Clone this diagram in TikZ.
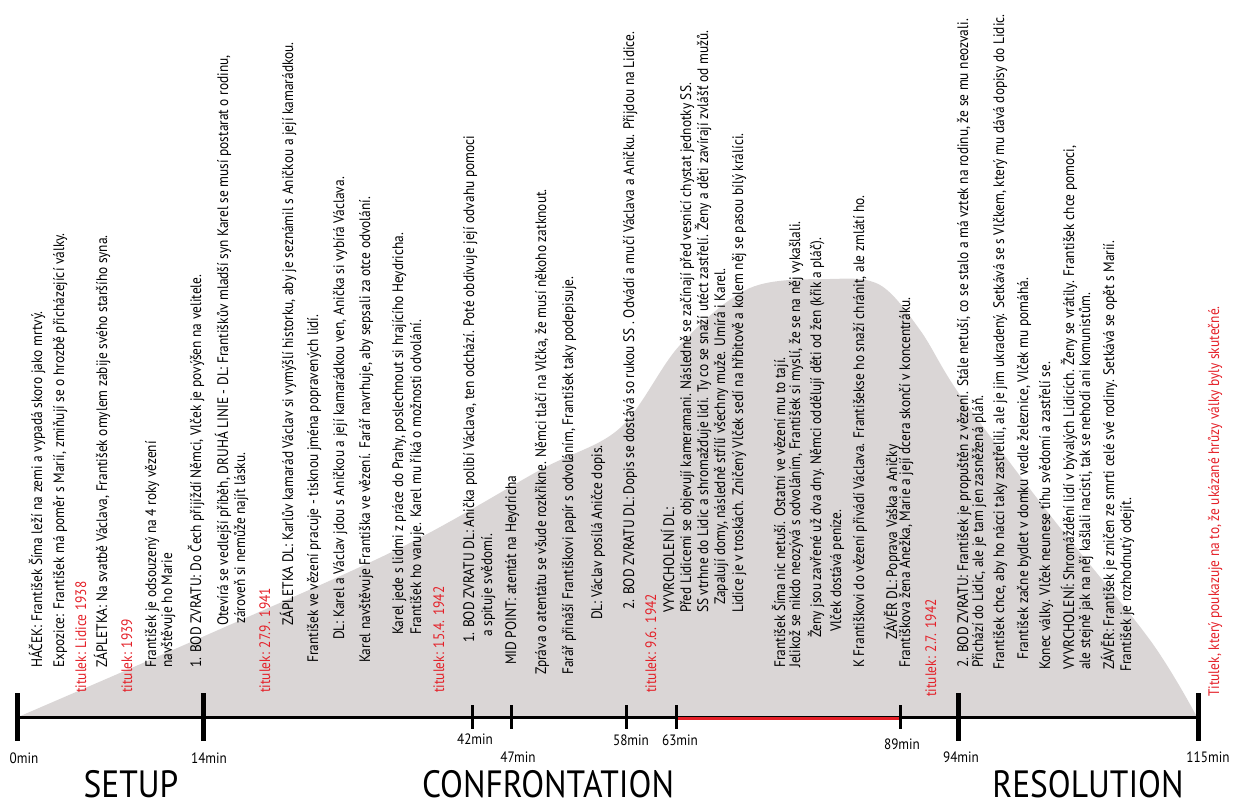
\documentclass[tikz,border=0pt]{standalone}
\usepackage{fontspec}
\setmainfont{PT Sans}[FakeStretch=0.88]
\definecolor{tred}{RGB}{228,32,40}
\definecolor{hill}{RGB}{218,214,214}
\tikzset{
  txt/.style={rotate=90, anchor=base west, inner sep=0pt, font=\fontsize{15.2}{18}\selectfont, text=black},
  redtxt/.style={txt, text=tred},
  ticklab/.style={font=\fontsize{15}{18}\selectfont, inner sep=0pt},
  act/.style={font=\fontsize{38}{44}\selectfont, inner sep=0pt, anchor=base, text depth=0pt},
  major/.style={line width=5pt},
  minor/.style={line width=3pt},
}
\begin{document}
\begin{tikzpicture}[x=1pt,y=-1pt]
\useasboundingbox (0,0) rectangle (1234,809);
% hill
\fill[hill] plot[smooth, tension=0.55] coordinates {(18,717) (200,638) (400,548) (540,470) (620,428) (680,345) (750,288) (830,279) (880,285) (920,330) (960,395) (1050,515) (1150,640) (1197,717)} -- cycle;
% axis
\coordinate (a0) at (17,717);
\coordinate (a115) at (1198,717);
\coordinate (a63) at (676,718);
\coordinate (a89) at (900,718);
\draw[line width=3pt] (a0) -- (a115);
\draw[tred, line width=3pt] (a63) -- (a89);
% ticks
\foreach \x in {17,203,958,1198} \draw[major] (\x,693) -- (\x,741);
\foreach \x in {472,511,626,676,900} \draw[minor] (\x,705) -- (\x,729);
% tick labels
\node[ticklab] (m0) at (24,758) {0min};
\node[ticklab] (m14) at (209,758) {14min};
\node[ticklab] (m42) at (475,739) {42min};
\node[ticklab] (m47) at (518,757) {47min};
\node[ticklab] (m58) at (631,740) {58min};
\node[ticklab] (m63) at (680,740) {63min};
\node[ticklab] (m89) at (902,744) {89min};
\node[ticklab] (m94) at (961,757) {94min};
\node[ticklab] (m115) at (1208,757) {115min};
% acts
\node[act] (setup) at (131,797) {SETUP};
\node[act] (confr) at (548,797) {CONFRONTATION};
\node[act] (resol) at (1088,797) {RESOLUTION};
% texts
\node[txt] (l1) at (42,668) {HÁČEK: František Šíma leží na zemi a vypadá skoro jako mrtvý.};
\node[txt] (l2) at (64,668) {Expozice: František má poměr s Marií, zmiňují se o hrozbě přicházející války.};
\node[redtxt] (l3) at (86,693) {titulek: Lidice 1938};
\node[txt] (l4) at (107,668) {ZÁPLETKA: Na svatbě Václava, František omylem zabije svého staršího syna.};
\node[redtxt] (l5) at (132,693) {titulek: 1939};
\node[txt] (l6) at (156,668) {František je odsouzený na 4 roky vězení};
\node[txt] (l7) at (172,668) {navštěvuje ho Marie};
\node[txt] (l8) at (201,668) {1. BOD ZVRATU: Do Čech přijíždí Němci,  Vlček je povýšen na velitele.};
\node[txt] (l9) at (228,626) {Otevírá se vedlejší příběh, DRUHÁ LINIE - DL: Františkův mladší syn Karel se musí postarat o rodinu,};
\node[txt] (l10) at (245,624) {zároveň si nemůže najít lásku.};
\node[redtxt] (l11) at (270,693) {titulek: 27.9. 1941};
\node[txt] (l12) at (293,626) {ZÁPLETKA DL: Karlův kamarád Václav si vymýšlí historku, aby je seznámil s Aničkou a její kamarádkou.};
\node[txt] (l13) at (318,663) {František ve vězení pracuje - tisknou jména popravených lidí.};
\node[txt] (l14) at (344,640) {DL: Karel a Václav jdou s Aničkou a její kamarádkou ven, Anička si vybírá Václava.};
\node[txt] (l15) at (370,663) {Karel navštěvuje Františka ve vězení. Farář navrhuje, aby sepsali za otce odvolání.};
\node[txt] (l16) at (403,635) {Karel jede s lidmi z práce do Prahy, poslechnout si hrajícího Heydricha.};
\node[txt] (l17) at (421,635) {František ho varuje. Karel mu říká o možnosti odvolání.};
\node[redtxt] (l18) at (444,693) {titulek: 15.4. 1942};
\node[txt] (l19) at (474,643) {1. BOD ZVRATU DL: Anička polibí Václava, ten odchází. Poté obdivuje její odvahu pomoci};
\node[txt] (l20) at (492,637) {a spituje svědomí.};
\node[txt] (l21) at (516,665) {MID POINT: atentát na Heydricha};
\node[txt] (l22) at (546,675) {Zpráva o atentátu se všude rozkřikne. Němci tlačí na Vlčka, že musí někoho zatknout.};
\node[txt] (l23) at (573,675) {Farář přináší Františkovi papír s odvoláním, František taky podepisuje.};
\node[txt] (l24) at (602,620) {DL: Václav posílá Aničce dopis.};
\node[txt] (l25) at (634,610) {2. BOD ZVRATU DL:  Dopis se dostává so rukou SS . Odvádí a mučí Václava a Aničku. Přijdou na Lidice.};
\node[redtxt] (l26) at (656,693) {titulek: 9.6. 1942};
\node[txt] (l27) at (674,613) {VYVRCHOLENÍ DL:};
\node[txt] (l28) at (691,613) {Před Lidicemi se objevují kameramani.  Následně se začínají před vesnicí chystat jednotky SS.};
\node[txt] (l29) at (708,613) {SS vtrhne do Lidic a shromažďuje lidi. Ty co se snaží utéct zastřelí. Ženy a děti zavírají zvlášť od mužů.};
\node[txt] (l30) at (725,605) {Zapalují domy, následně střílí všechny muže. Umírá i Karel.};
\node[txt] (l31) at (743,613) {Lidice je v troskách. Zničený Vlček sedí na hřbitově a kolem něj se pasou bílý králíci.};
\node[txt] (l32) at (785,668) {František Šíma nic netuší. Ostatní ve vězení mu to tají.};
\node[txt] (l33) at (800,668) {Jelikož se nikdo neozývá s odvoláním, František si myslí, že se na něj vykašlali.};
\node[txt] (l34) at (821,638) {Ženy jsou zavřené už dva dny. Němci oddělují děti od žen (křik a pláč).};
\node[txt] (l35) at (841,632) {Vlček dostává peníze.};
\node[txt] (l36) at (864,668) {K Františkovi do vězení přivádí Václava. Františekse ho snaží chránit, ale zmlátí ho.};
\node[txt] (l37) at (897,640) {ZÁVĚR DL: Poprava Vaška a Aničky};
\node[txt] (l38) at (910,668) {Františkova žena Anežka, Marie a její dcera skončí v koncentráku.};
\node[redtxt] (l39) at (936,697) {titulek: 2.7. 1942};
\node[txt] (l40) at (968,668) {2. BOD ZVRATU: František je propuštěn z vězení. Stále netuší, co se stalo a má vztek na rodinu, že se mu neozvali.};
\node[txt] (l41) at (983,668) {Přichází do Lidic, ale je tam jen zasněžená pláň.};
\node[txt] (l42) at (1004,670) {František chce, aby ho nácci taky zastřelili, ale je jim ukradený. Setkává se s Vlčkem, který mu dává dopisy do Lidic.};
\node[txt] (l43) at (1028,660) {František začne bydlet v domku vedle železnice, Vlček mu pomáhá.};
\node[txt] (l44) at (1050,670) {Konec války. Vlček  neunese tíhu svědomí a zastřelí se.};
\node[txt] (l45) at (1074,670) {VYVRCHOLENÍ: Shromáždění lidí v bývalých Lidicích. Ženy se vrátily. František chce pomoci,};
\node[txt] (l46) at (1090,670) {ale stejně jak na něj kašlali nacisti, tak se nehodí ani  komunistům.};
\node[txt] (l47) at (1114,670) {ZÁVĚR: František je zničen ze smrti celé své rodiny. Setkává se opět s Marií.};
\node[txt] (l48) at (1131,672) {František je rozhodnutý odejít.};
\node[redtxt] (l49) at (1219,697) {Titulek, který poukazuje na to, že ukázané hrůzy války byly skutečné.};
\end{tikzpicture}
\end{document}
